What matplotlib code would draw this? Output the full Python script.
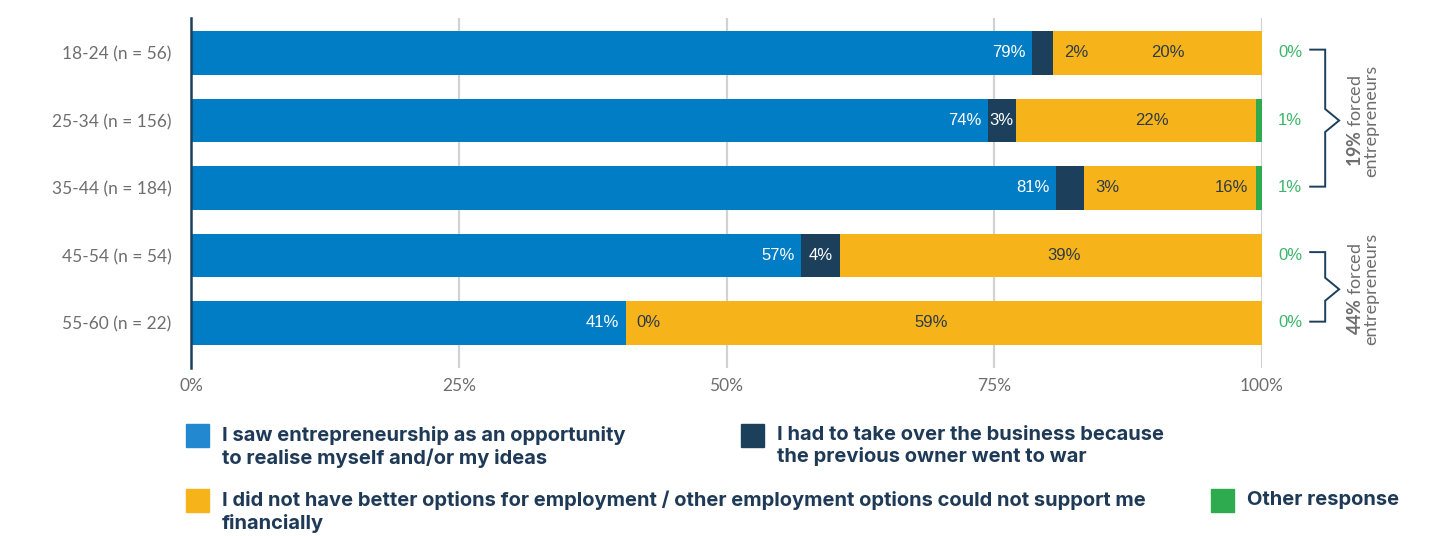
import matplotlib
matplotlib.use("Agg")
import matplotlib.pyplot as plt
from matplotlib.patches import Rectangle

# ---- data -------------------------------------------------------------
age_groups = ["18-24 (n = 56)", "25-34 (n = 156)", "35-44 (n = 184)",
              "45-54 (n = 54)", "55-60 (n = 22)"]
opportunity = [78.51, 74.4, 80.8, 57.0, 40.6]
took_over = [1.99, 2.6, 2.6, 3.6, 0.0]
no_options = [19.5, 22.4, 16.0, 39.4, 59.4]
other = [0.0, 0.6, 0.6, 0.0, 0.0]

series_names = [
    "I saw entrepreneurship as an opportunity\nto realise myself and/or my ideas",
    "I had to take over the business because\nthe previous owner went to war",
    "I did not have better options for employment / other employment options could not support me\nfinancially",
    "Other response",
]
x_ticks = [0, 25, 50, 75, 100]
x_tick_labels = ["0%", "25%", "50%", "75%", "100%"]

brace_groups = [(0, 2, "19%"), (3, 4, "44%")]

# ---- style ------------------------------------------------------------
BLUE = "#007DC5"
NAVY = "#1C3F5C"
YELLOW = "#F6B41A"
GREEN = "#2EAA4F"
GREEN_TXT = "#3DB56A"
TXT_DARK = "#2E3A48"
GREY = "#6E6E6E"
LEG_TXT = "#1F3A57"

FONT = "Lato"
LABEL_FONT = ["Liberation Sans", "DejaVu Sans"]
LEGEND_FONT = ["Inter", "DejaVu Sans"]
plt.rcParams["font.family"] = [FONT, "DejaVu Sans"]
plt.rcParams["mathtext.fontset"] = "custom"
plt.rcParams["mathtext.rm"] = FONT
plt.rcParams["mathtext.bf"] = FONT + ":bold"

dark_label_inside = [False, True, False, True, False]
yellow_label_frac = [0.55, 0.57, 0.86, 0.53, 0.48]

W, H = 1430, 536
fig = plt.figure(figsize=(W / 100, H / 100), dpi=100)
ax = fig.add_axes([191 / W, 1 - 368 / H, (1262 - 191) / W, (368 - 18) / H])

y = list(range(len(age_groups)))
bar_h = 0.65

left = [0.0] * len(y)
segments = [opportunity, took_over, no_options, other]
colors = [BLUE, NAVY, YELLOW, GREEN]
for vals, col in zip(segments, colors):
    ax.barh(y, vals, left=left, height=bar_h, color=col, linewidth=0, zorder=3)
    left = [l + v for l, v in zip(left, vals)]

fs = 12
for i in y:
    b_end = opportunity[i]
    ax.text(b_end - 0.6, i, f"{opportunity[i]:.0f}%", ha="right", va="center",
            color="white", fontsize=fs, family=LABEL_FONT, zorder=4)
    d_end = b_end + took_over[i]
    if dark_label_inside[i]:
        ax.text(b_end + took_over[i] / 2, i, f"{took_over[i]:.0f}%", ha="center",
                va="center", color="white", fontsize=fs, family=LABEL_FONT, zorder=4)
    else:
        ax.text(d_end + 1.0, i, f"{took_over[i]:.0f}%", ha="left", va="center",
                color=TXT_DARK, fontsize=fs, family=LABEL_FONT, zorder=4)
    y_x = d_end + no_options[i] * yellow_label_frac[i]
    ax.text(y_x, i, f"{no_options[i]:.0f}%", ha="center", va="center",
            color=TXT_DARK, fontsize=fs, family=LABEL_FONT, zorder=4)
    ax.text(101.5, i, f"{other[i]:.0f}%", ha="left", va="center",
            color=GREEN_TXT, fontsize=fs, family=LABEL_FONT, clip_on=False)

ax.set_ylim(4 + 45 / 67.5, -35 / 67.5)
ax.set_xlim(0, 100)
ax.set_yticks(y)
ax.set_yticklabels(age_groups, fontsize=12.5, color=GREY)
ax.set_xticks(x_ticks)
ax.set_xticklabels(x_tick_labels, fontsize=12.5, color=GREY)
ax.tick_params(axis="both", length=0)
ax.tick_params(axis="y", pad=14)
ax.tick_params(axis="x", pad=7)
for s in ["top", "right", "bottom"]:
    ax.spines[s].set_visible(False)
ax.spines["left"].set_color(NAVY)
ax.spines["left"].set_linewidth(1.8)
ax.spines["left"].set_zorder(5)
for xv in x_ticks[1:]:
    ax.axvline(xv, color="#D2D2D2", linewidth=1.6, zorder=1)

# braces grouping the rows of "forced entrepreneurs"
for top, bot, pct in brace_groups:
    xs, xm, xp = 104.5, 105.9, 107.2
    mid = (top + bot) / 2
    d = 0.17
    ax.plot([xs, xm, xm, xp, xm, xm, xs],
            [top - 0.05, top - 0.05, mid - d, mid, mid + d, bot - 0.02, bot - 0.02],
            color=NAVY, linewidth=1.4, clip_on=False, solid_joinstyle="miter")
    ax.text(109.4, mid, r"$\mathbf{" + pct.replace("%", r"\%") + "}$ forced\nentrepreneurs",
            rotation=90, ha="center", va="center", multialignment="center",
            fontsize=13, color=GREY, linespacing=1.0, clip_on=False)

# ---- legend -------------------------------------------------------------
def legend_item(x_px, y_px, color, label):
    sq = 23
    fig.patches.append(Rectangle((x_px / W, 1 - (y_px + sq) / H), sq / W, sq / H,
                                 transform=fig.transFigure, color=color,
                                 figure=fig))
    fig.text((x_px + 36) / W, 1 - (y_px + 2) / H, label, ha="left", va="top",
             fontsize=14.5, fontweight="bold", family=LEGEND_FONT, color=LEG_TXT,
             linespacing=1.22)

legend_item(186, 424, "#2288D0", series_names[0])
legend_item(741, 424, NAVY, series_names[1])
legend_item(186, 489, YELLOW, series_names[2])
legend_item(1211, 489, GREEN, series_names[3])

fig.savefig("out.png", dpi=100)
